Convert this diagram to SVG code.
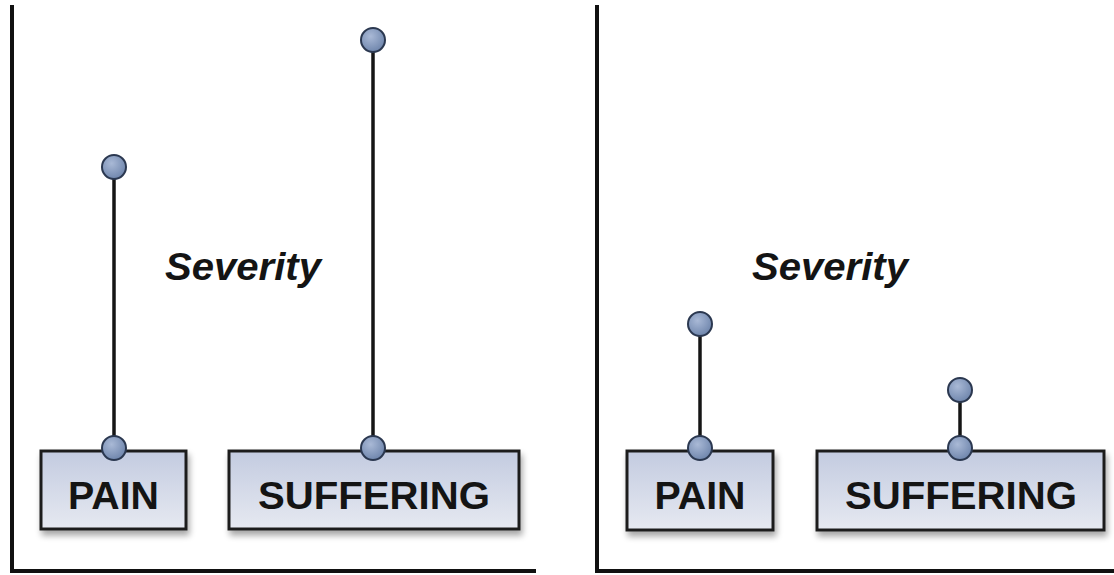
<svg xmlns="http://www.w3.org/2000/svg" width="1114" height="575" viewBox="0 0 1114 575">
  <defs>
    <linearGradient id="boxFill" x1="0" y1="0" x2="0" y2="1">
      <stop offset="0" stop-color="#c3cbe0"/>
      <stop offset="1" stop-color="#e6e9f1"/>
    </linearGradient>
    <radialGradient id="knobFill" cx="0.4" cy="0.35" r="0.7">
      <stop offset="0" stop-color="#a9b9d6"/>
      <stop offset="1" stop-color="#6c83aa"/>
    </radialGradient>
    <filter id="shadow" x="-10%" y="-10%" width="120%" height="130%">
      <feGaussianBlur in="SourceAlpha" stdDeviation="3"/>
      <feOffset dx="2" dy="5" result="b"/>
      <feComponentTransfer><feFuncA type="linear" slope="0.35"/></feComponentTransfer>
      <feMerge><feMergeNode/><feMergeNode in="SourceGraphic"/></feMerge>
    </filter>
  </defs>
  <style>
    .axis { stroke: #111; stroke-width: 4; fill: none; }
    .box { fill: url(#boxFill); stroke: #1e1e1e; stroke-width: 3; }
    .stem { stroke: #151515; stroke-width: 3.5; }
    .knob { fill: url(#knobFill); stroke: #2b3850; stroke-width: 2; }
    .label { font-family: "Liberation Sans", Arial, sans-serif; font-weight: bold; font-size: 39px; fill: #141414; text-anchor: middle; }
    .title { font-family: "Liberation Sans", Arial, sans-serif; font-weight: bold; font-style: italic; font-size: 38px; fill: #141414; }
  </style>
  <rect width="1114" height="575" fill="#ffffff"/>

  <!-- panel axes -->
  <g id="axes">
    <path class="axis" d="M12 5 V571 H536"/>
    <path class="axis" d="M597 5 V571 H1114"/>
  </g>

  <!-- panel captions -->
  <text id="severity-left" class="title" x="165" y="280" textLength="156" lengthAdjust="spacingAndGlyphs">Severity</text>
  <text id="severity-right" class="title" x="752" y="280" textLength="156" lengthAdjust="spacingAndGlyphs">Severity</text>

  <!-- stems -->
  <g id="connectors">
    <line class="stem" x1="114" y1="167" x2="114" y2="448"/>
    <line class="stem" x1="373" y1="40" x2="373" y2="448"/>
    <line class="stem" x1="700" y1="324" x2="700" y2="448"/>
    <line class="stem" x1="960" y1="390" x2="960" y2="448"/>
  </g>

  <!-- left panel -->
  <g id="pain-left">
    <rect class="box" x="41" y="451" width="145" height="78" filter="url(#shadow)"/>
    <text class="label" x="113.5" y="509" textLength="91" lengthAdjust="spacingAndGlyphs">PAIN</text>
    <circle class="knob" cx="114" cy="448" r="12"/>
    <circle class="knob" cx="114" cy="167" r="12"/>
  </g>
  <g id="suffering-left">
    <rect class="box" x="229" y="451" width="290" height="78" filter="url(#shadow)"/>
    <text class="label" x="374" y="509" textLength="232" lengthAdjust="spacingAndGlyphs">SUFFERING</text>
    <circle class="knob" cx="373" cy="448" r="12"/>
    <circle class="knob" cx="373" cy="40" r="12"/>
  </g>

  <!-- right panel -->
  <g id="pain-right">
    <rect class="box" x="627" y="451" width="146" height="79" filter="url(#shadow)"/>
    <text class="label" x="700" y="509" textLength="91" lengthAdjust="spacingAndGlyphs">PAIN</text>
    <circle class="knob" cx="700" cy="448" r="12"/>
    <circle class="knob" cx="700" cy="324" r="12"/>
  </g>
  <g id="suffering-right">
    <rect class="box" x="817" y="451" width="287" height="79" filter="url(#shadow)"/>
    <text class="label" x="961" y="509" textLength="232" lengthAdjust="spacingAndGlyphs">SUFFERING</text>
    <circle class="knob" cx="960" cy="448" r="12"/>
    <circle class="knob" cx="960" cy="390" r="12"/>
  </g>
</svg>
